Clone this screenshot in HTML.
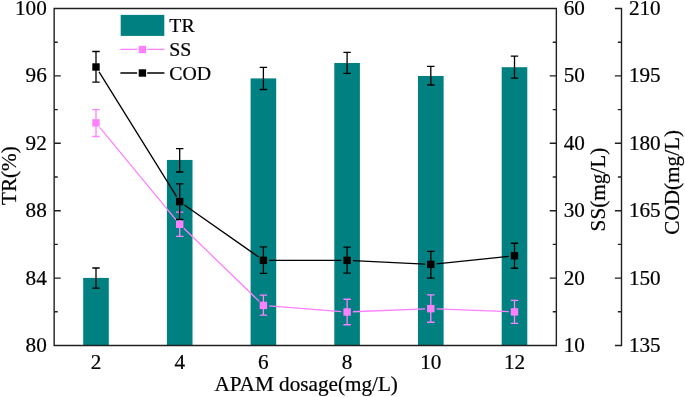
<!DOCTYPE html>
<html><head><meta charset="utf-8"><style>
html,body{margin:0;padding:0;background:#fff;width:685px;height:397px;overflow:hidden}
svg{display:block;font-family:"Liberation Serif",serif;will-change:transform}
</style></head><body>
<svg width="685" height="397" viewBox="0 0 685 397" font-family="Liberation Serif, serif" fill="#000"><rect x="83.20" y="277.90" width="25.60" height="67.60" fill="#008080"/>
<rect x="166.90" y="159.95" width="25.60" height="185.55" fill="#008080"/>
<rect x="250.60" y="78.40" width="25.60" height="267.10" fill="#008080"/>
<rect x="334.30" y="62.97" width="25.60" height="282.53" fill="#008080"/>
<rect x="418.00" y="75.96" width="25.60" height="269.54" fill="#008080"/>
<rect x="501.70" y="67.20" width="25.60" height="278.30" fill="#008080"/>
<path d="M96.00 268.00V288.20M92.30 268.00H99.70M92.30 288.20H99.70" stroke="#000" stroke-width="1.3" fill="none"/>
<path d="M179.70 148.60V172.00M176.00 148.60H183.40M176.00 172.00H183.40" stroke="#000" stroke-width="1.3" fill="none"/>
<path d="M263.40 67.30V89.50M259.70 67.30H267.10M259.70 89.50H267.10" stroke="#000" stroke-width="1.3" fill="none"/>
<path d="M347.10 52.30V73.30M343.40 52.30H350.80M343.40 73.30H350.80" stroke="#000" stroke-width="1.3" fill="none"/>
<path d="M430.80 66.40V85.00M427.10 66.40H434.50M427.10 85.00H434.50" stroke="#000" stroke-width="1.3" fill="none"/>
<path d="M514.50 56.10V78.20M510.80 56.10H518.20M510.80 78.20H518.20" stroke="#000" stroke-width="1.3" fill="none"/>
<path d="M99.69 127.37L176.01 219.83M183.87 228.34L259.23 301.36M269.18 305.86L341.32 311.54M352.90 311.77L425.00 308.88M436.60 308.88L508.70 311.67" stroke="#FF80FF" stroke-width="1.3" fill="none"/>
<path d="M96.00 109.60V136.50M92.30 109.60H99.70M92.30 136.50H99.70" stroke="#FF80FF" stroke-width="1.3" fill="none"/>
<rect x="92.30" y="119.20" width="7.40" height="7.40" fill="#FF80FF"/>
<path d="M179.70 212.10V236.40M176.00 212.10H183.40M176.00 236.40H183.40" stroke="#FF80FF" stroke-width="1.3" fill="none"/>
<rect x="176.00" y="220.60" width="7.40" height="7.40" fill="#FF80FF"/>
<path d="M263.40 295.08V315.20M259.70 295.08H267.10M259.70 315.20H267.10" stroke="#FF80FF" stroke-width="1.3" fill="none"/>
<rect x="259.70" y="301.70" width="7.40" height="7.40" fill="#FF80FF"/>
<path d="M347.10 299.27V324.76M343.40 299.27H350.80M343.40 324.76H350.80" stroke="#FF80FF" stroke-width="1.3" fill="none"/>
<rect x="343.40" y="308.30" width="7.40" height="7.40" fill="#FF80FF"/>
<path d="M430.80 294.84V322.24M427.10 294.84H434.50M427.10 322.24H434.50" stroke="#FF80FF" stroke-width="1.3" fill="none"/>
<rect x="427.10" y="304.95" width="7.40" height="7.40" fill="#FF80FF"/>
<path d="M514.50 300.28V323.45M510.80 300.28H518.20M510.80 323.45H518.20" stroke="#FF80FF" stroke-width="1.3" fill="none"/>
<rect x="510.80" y="308.20" width="7.40" height="7.40" fill="#FF80FF"/>
<path d="M99.06 71.93L176.64 196.67M184.45 204.93L258.65 257.02M269.20 260.35L341.30 260.35M352.89 260.63L425.01 264.12M436.57 263.80L508.73 256.35" stroke="#000" stroke-width="1.3" fill="none"/>
<path d="M96.00 51.50V82.10M92.30 51.50H99.70M92.30 82.10H99.70" stroke="#000" stroke-width="1.3" fill="none"/>
<rect x="92.30" y="63.30" width="7.40" height="7.40" fill="#000"/>
<path d="M179.70 183.90V219.30M176.00 183.90H183.40M176.00 219.30H183.40" stroke="#000" stroke-width="1.3" fill="none"/>
<rect x="176.00" y="197.90" width="7.40" height="7.40" fill="#000"/>
<path d="M263.40 246.85V273.45M259.70 246.85H267.10M259.70 273.45H267.10" stroke="#000" stroke-width="1.3" fill="none"/>
<rect x="259.70" y="256.65" width="7.40" height="7.40" fill="#000"/>
<path d="M347.10 247.05V273.05M343.40 247.05H350.80M343.40 273.05H350.80" stroke="#000" stroke-width="1.3" fill="none"/>
<rect x="343.40" y="256.65" width="7.40" height="7.40" fill="#000"/>
<path d="M430.80 251.28V278.10M427.10 251.28H434.50M427.10 278.10H434.50" stroke="#000" stroke-width="1.3" fill="none"/>
<rect x="427.10" y="260.70" width="7.40" height="7.40" fill="#000"/>
<path d="M514.50 243.26V268.25M510.80 243.26H518.20M510.80 268.25H518.20" stroke="#000" stroke-width="1.3" fill="none"/>
<rect x="510.80" y="252.05" width="7.40" height="7.40" fill="#000"/>
<path d="M54.15 8.5H556.35V345.5H54.15ZM621.5 8.5V345.5M54.15 345.50h5.9M54.15 311.80h2.9M54.15 278.10h5.9M54.15 244.40h2.9M54.15 210.70h5.9M54.15 177.00h2.9M54.15 143.30h5.9M54.15 109.60h2.9M54.15 75.90h5.9M54.15 42.20h2.9M54.15 8.50h5.9M556.35 345.50h-5.9M621.5 345.50h-5.9M556.35 311.80h-2.9M621.5 311.80h-2.9M556.35 278.10h-5.9M621.5 278.10h-5.9M556.35 244.40h-2.9M621.5 244.40h-2.9M556.35 210.70h-5.9M621.5 210.70h-5.9M556.35 177.00h-2.9M621.5 177.00h-2.9M556.35 143.30h-5.9M621.5 143.30h-5.9M556.35 109.60h-2.9M621.5 109.60h-2.9M556.35 75.90h-5.9M621.5 75.90h-5.9M556.35 42.20h-2.9M621.5 42.20h-2.9M556.35 8.50h-5.9M621.5 8.50h-5.9" stroke="#202020" stroke-width="1.4" fill="none" stroke-linecap="square"/>
<g font-size="21.2" stroke="#000" stroke-width="0.22"><text x="46.75" y="351.90" text-anchor="end">80</text><text x="46.75" y="284.50" text-anchor="end">84</text><text x="46.75" y="217.10" text-anchor="end">88</text><text x="46.75" y="149.70" text-anchor="end">92</text><text x="46.75" y="82.30" text-anchor="end">96</text><text x="46.75" y="14.90" text-anchor="end">100</text><text x="563.75" y="351.90">10</text><text x="563.75" y="284.50">20</text><text x="563.75" y="217.10">30</text><text x="563.75" y="149.70">40</text><text x="563.75" y="82.30">50</text><text x="563.75" y="14.90">60</text><text x="628.90" y="351.90">135</text><text x="628.90" y="284.50">150</text><text x="628.90" y="217.10">165</text><text x="628.90" y="149.70">180</text><text x="628.90" y="82.30">195</text><text x="628.90" y="14.90">210</text><text x="96.00" y="368.8" text-anchor="middle">2</text><text x="179.70" y="368.8" text-anchor="middle">4</text><text x="263.40" y="368.8" text-anchor="middle">6</text><text x="347.10" y="368.8" text-anchor="middle">8</text><text x="430.80" y="368.8" text-anchor="middle">10</text><text x="514.50" y="368.8" text-anchor="middle">12</text><text x="306.2" y="391.0" text-anchor="middle">APAM dosage(mg/L)</text><text transform="translate(15.6 175.6) rotate(-90)" text-anchor="middle">TR(%)</text><text transform="translate(604.6 189.6) rotate(-90)" text-anchor="middle">SS(mg/L)</text><text transform="translate(679.2 182.3) rotate(-90)" text-anchor="middle">COD(mg/L)</text></g>
<rect x="120.7" y="14.9" width="43.6" height="21" fill="#008080"/><path d="M120.4 49.4H137.1M147.2 49.4H164.4" stroke="#FF80FF" stroke-width="1.3"/><rect x="138.70" y="45.80" width="7.4" height="7.4" fill="#FF80FF"/><path d="M120.4 73H137.1M147.2 73H164.4" stroke="#000" stroke-width="1.3"/><rect x="138.70" y="69.30" width="7.4" height="7.4" fill="#000"/><g font-size="19.8" stroke="#000" stroke-width="0.22"><text x="169.3" y="31.7">TR</text><text x="169.3" y="55.7">SS</text><text x="169.3" y="79.8">COD</text></g></svg>
</body></html>
